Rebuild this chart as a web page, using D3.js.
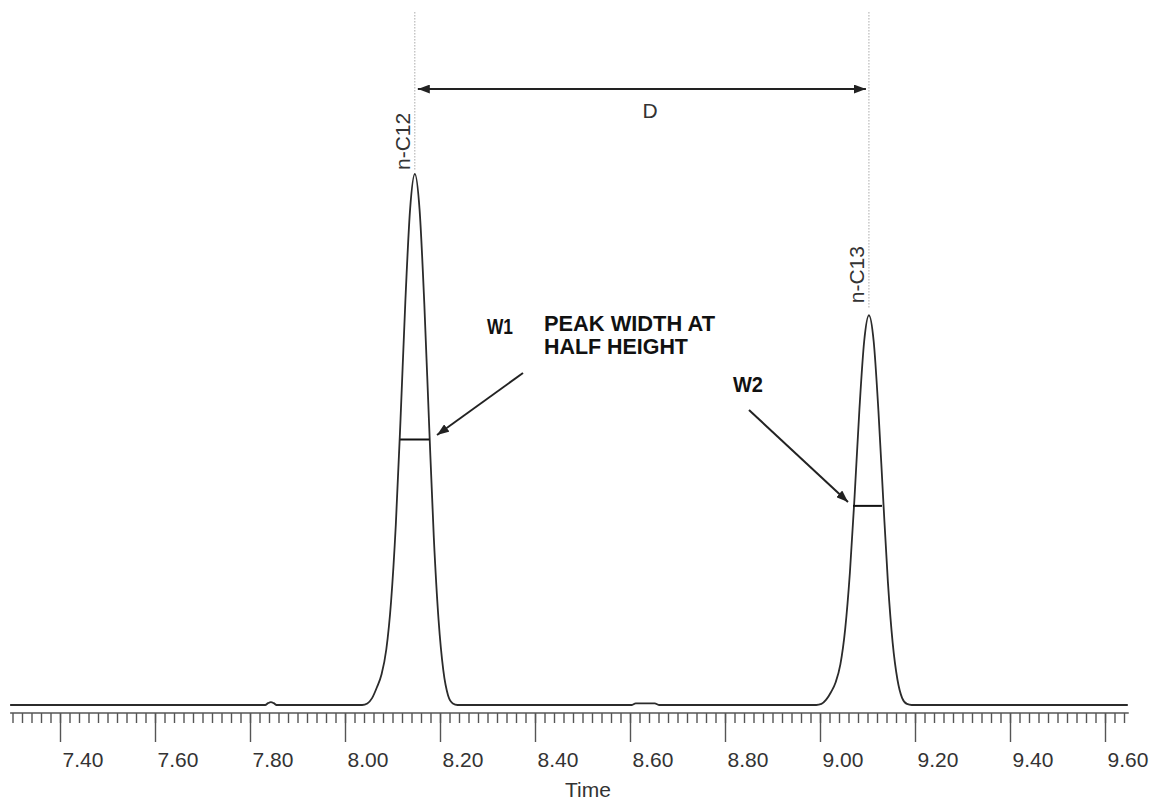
<!DOCTYPE html>
<html lang="en">
<head>
<meta charset="UTF-8">
<script src="https://d3js.org/d3.v7.min.js"></script>
<style>
body { margin: 0; background: #fff; }
svg { display: block; font-family: "Liberation Sans", Arial, sans-serif; }
.trace { fill: none; stroke: #2b2b2b; stroke-width: 1.8px; stroke-linejoin: round; }
.marker-line { stroke: #aaa; stroke-width: 1px; stroke-dasharray: 1.5 1.5; }
.axis text { font-size: 21px; fill: #333; }
.axis line, .axis-line { stroke: #555; stroke-width: 1.4px; }
.note { font-size: 21.5px; font-weight: bold; fill: #111; }
.plain { font-size: 21px; fill: #333; }
.arrow { stroke: #222; stroke-width: 2px; fill: none; }
.half { stroke: #111; stroke-width: 2px; }
</style>
</head>
<body>
<svg width="1150" height="800"></svg>
<script>
// trace: time (min) and detector signal (n-C12 apex = 100)
const traceTime = [
  7.295, 7.832, 7.838, 7.844, 7.850, 7.856,
  8.036, 8.047, 8.057, 8.067, 8.077, 8.087, 8.097, 8.107, 8.117, 8.127, 8.137,
  8.147,
  8.157, 8.167, 8.177, 8.187, 8.197, 8.207, 8.217, 8.227, 8.237,
  8.603, 8.612, 8.652, 8.662,
  8.992, 9.003, 9.013, 9.023, 9.033, 9.043, 9.053, 9.063, 9.073, 9.083, 9.093,
  9.103,
  9.113, 9.123, 9.133, 9.143, 9.153, 9.163, 9.173, 9.183, 9.193,
  9.648
];
const traceSignal = [
  0, 0, 0.35, 0.55, 0.35, 0,
  0, 0.3, 1.3, 3.3, 5.8, 10.5, 19.5, 34, 54, 75.9, 93.3,
  100,
  93.3, 75.5, 53, 31.5, 16, 6.5, 1.8, 0.3, 0,
  0, 0.3, 0.3, 0,
  0, 0.2, 1.0, 2.4, 4.3, 7.7, 14.3, 25.0, 39.6, 55.7, 68.5,
  73.4,
  68.5, 55.4, 38.9, 23.1, 11.7, 4.8, 1.3, 0.2, 0,
  0
];

const peakNames = ["n-C12", "n-C13"];
const peakTimes = [8.147, 9.103];
const peakHeights = [100, 73.4];
// peak width at half height: start / end time and signal level
const halfStart = [8.116, 9.0695];
const halfEnd = [8.178, 9.1305];
const halfLevel = [50, 37.5];

const majorTicks = [7.40, 7.60, 7.80, 8.00, 8.20, 8.40, 8.60, 8.80, 9.00, 9.20, 9.40, 9.60];
const tickLabels = ["7.40", "7.60", "7.80", "8.00", "8.20", "8.40", "8.60", "8.80", "9.00", "9.20", "9.40", "9.60"];
const axisTitle = "Time";

const svg = d3.select("svg");
const x = d3.scaleLinear().domain([7.40, 9.60]).range([60, 1105]);
const y = d3.scaleLinear().domain([0, 100]).range([705, 174]);
const axisY = 713;

// arrow heads
const defs = svg.append("defs");
defs.append("marker")
  .attr("id", "head")
  .attr("viewBox", "0 0 12 9")
  .attr("refX", 12).attr("refY", 4.5)
  .attr("markerWidth", 12).attr("markerHeight", 9)
  .attr("markerUnits", "userSpaceOnUse")
  .attr("orient", "auto-start-reverse")
  .append("path").attr("d", "M0,0 L12,4.5 L0,9 Z").attr("fill", "#222");

// axis
svg.append("line").attr("class", "axis-line")
  .attr("x1", x(7.295)).attr("x2", x(9.65))
  .attr("y1", axisY).attr("y2", axisY);

const minor = svg.append("g").attr("class", "axis")
  .attr("transform", `translate(0,${axisY})`)
  .call(d3.axisBottom(x).tickValues(d3.range(7.30, 9.645, 0.02)).tickSize(10).tickFormat(""));
minor.select(".domain").remove();

const major = svg.append("g").attr("class", "axis")
  .attr("transform", `translate(0,${axisY})`)
  .call(d3.axisBottom(x).tickValues(majorTicks).tickSize(29)
    .tickFormat((d, i) => tickLabels[i]));
major.select(".domain").remove();
major.selectAll("text").attr("text-anchor", "start").attr("dx", 2).attr("y", 39);
svg.selectAll(".axis").attr("font-family", null).attr("font-size", null);

svg.append("text").attr("class", "plain")
  .attr("x", 588).attr("y", 797).attr("text-anchor", "middle").text(axisTitle);

// chromatogram trace
const line = d3.line()
  .x((d, i) => x(traceTime[i]))
  .y(d => y(d))
  .curve(d3.curveMonotoneX);
svg.append("path").datum(traceSignal).attr("class", "trace").attr("d", line);

// peak marker lines and names
const topLevel = 130.5;
const peakLineEnd = [100.6, 74.8];
peakTimes.forEach((t, i) => {
  svg.append("line").attr("class", "marker-line")
    .attr("x1", x(t)).attr("x2", x(t))
    .attr("y1", y(topLevel)).attr("y2", y(peakLineEnd[i]));
  svg.append("text").attr("class", "plain")
    .attr("transform", `translate(${x(t) - 5},${y(peakHeights[i]) - 4 - (i ? 8 : 0)}) rotate(-90)`)
    .text(peakNames[i]);
});

// half height segments
halfLevel.forEach((lv, i) => {
  svg.append("line").attr("class", "half")
    .attr("x1", x(halfStart[i])).attr("x2", x(halfEnd[i]))
    .attr("y1", y(lv)).attr("y2", y(lv));
});

// distance D between the peaks
const dLevel = 116;
svg.append("line").attr("class", "arrow")
  .attr("x1", x(peakTimes[0]) + 3).attr("x2", x(peakTimes[1]) - 3)
  .attr("y1", y(dLevel)).attr("y2", y(dLevel))
  .attr("marker-start", "url(#head)").attr("marker-end", "url(#head)");
svg.append("text").attr("class", "plain")
  .attr("x", x(8.6421)).attr("y", y(110.55)).attr("text-anchor", "middle").text("D");

// W1 / W2 pointers
const pointers = [
  {from: [8.3747, 62.52], to: [8.1937, 50.85]},
  {from: [8.8505, 55.56], to: [9.0589, 38.23]}
];
pointers.forEach(p => {
  svg.append("line").attr("class", "arrow")
    .attr("x1", x(p.from[0])).attr("y1", y(p.from[1]))
    .attr("x2", x(p.to[0])).attr("y2", y(p.to[1]))
    .attr("marker-end", "url(#head)");
});

const notes = [
  {text: "W1", t: 8.2989, s: 69.87, w: 26},
  {text: "PEAK WIDTH AT", t: 8.4189, s: 70.43, w: 171},
  {text: "HALF HEIGHT", t: 8.4189, s: 66.1, w: 144},
  {text: "W2", t: 8.8168, s: 58.95, w: 30}
];
svg.selectAll(".note").data(notes).enter().append("text")
  .attr("class", "note")
  .attr("x", d => x(d.t)).attr("y", d => y(d.s))
  .attr("textLength", d => d.w).attr("lengthAdjust", "spacingAndGlyphs")
  .text(d => d.text);
</script>
</body>
</html>
